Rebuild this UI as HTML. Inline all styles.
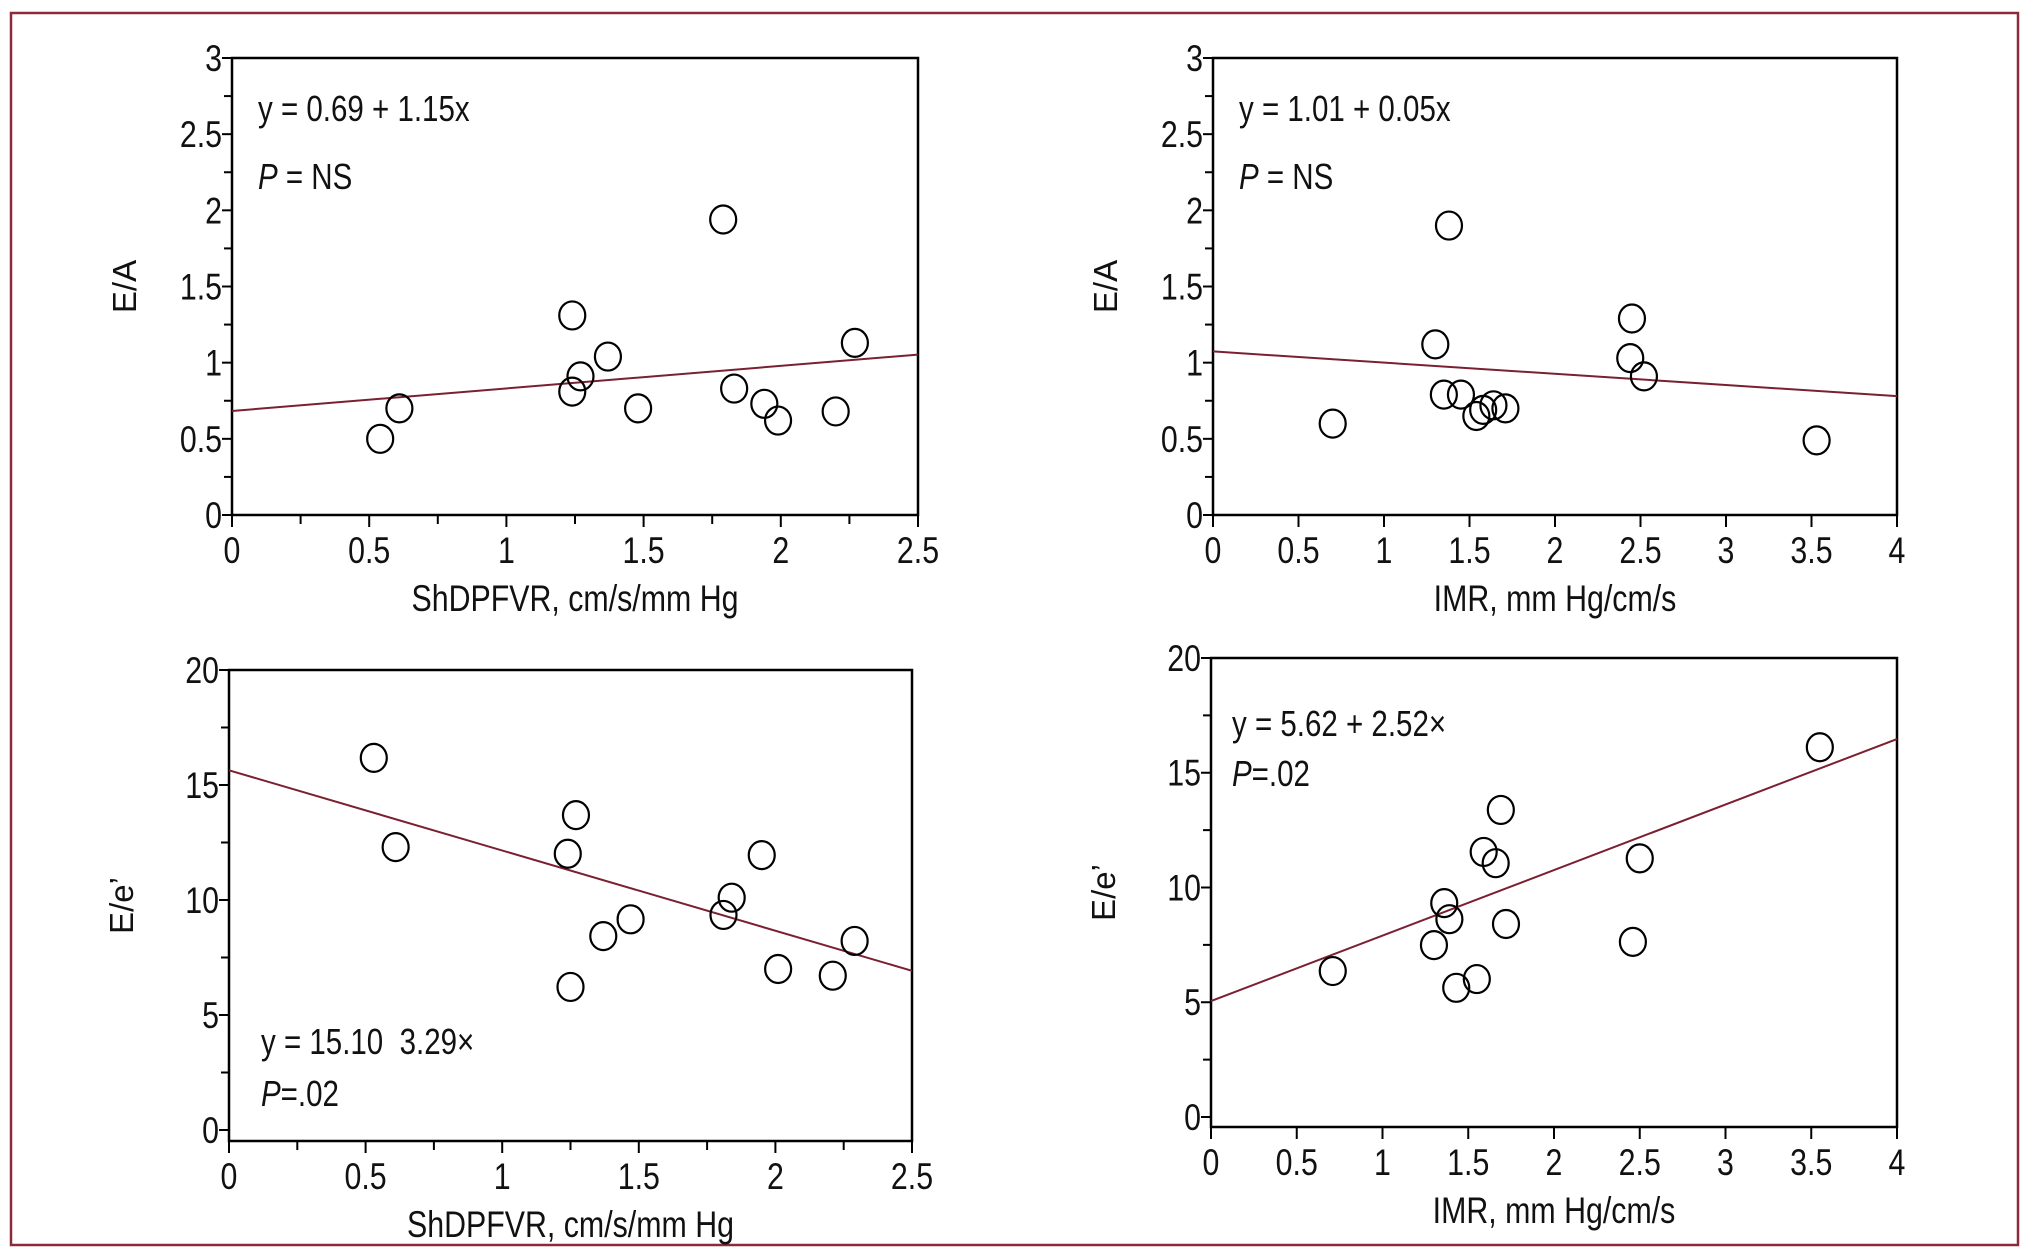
<!DOCTYPE html>
<html><head><meta charset="utf-8">
<style>
html,body{margin:0;padding:0;background:#fff;}
svg{display:block;}
text{font-family:"Liberation Sans Narrow","Liberation Sans",sans-serif;fill:#111;}
.sq{transform-box:fill-box;transform:scaleX(0.82);}
.sq.st{transform-origin:left center;}
.sq.md{transform-origin:center center;}
.sq.en{transform-origin:right center;}
</style></head>
<body>
<svg id="fig" width="2037" height="1254" viewBox="0 0 2037 1254" xmlns="http://www.w3.org/2000/svg">
<rect x="11" y="13" width="2007" height="1232" fill="none" stroke="#8b2a3a" stroke-width="2.5"/>
</svg>
<script>
// Panel A: E/A vs ShDPFVR
const aX = [0.54,0.61,1.24,1.24,1.27,1.37,1.48,1.79,1.83,1.94,1.99,2.20,2.27];
const aY = [0.50,0.70,1.31,0.81,0.91,1.04,0.70,1.94,0.83,0.73,0.62,0.68,1.13];
const aLine = [0.683,1.053];
// Panel B: E/A vs IMR
const bX = [0.70,1.30,1.38,1.35,1.45,1.54,1.58,1.64,1.71,2.45,2.44,2.52,3.53];
const bY = [0.60,1.12,1.90,0.79,0.79,0.65,0.69,0.72,0.70,1.29,1.03,0.91,0.49];
const bLine = [1.074,0.78];
// Panel C: E/e' vs ShDPFVR
const cX = [0.53,0.61,1.27,1.24,1.25,1.37,1.47,1.81,1.84,1.95,2.01,2.21,2.29];
const cY = [16.18,12.30,13.69,12.01,6.22,8.43,9.16,9.35,10.10,11.95,7.00,6.71,8.22];
const cLine = [15.64,6.92];
// Panel D: E/e' vs IMR
const dX = [0.71,1.30,1.36,1.39,1.43,1.55,1.59,1.66,1.69,1.72,2.46,2.50,3.55];
const dY = [6.36,7.49,9.32,8.62,5.63,6.01,11.55,11.06,13.38,8.41,7.63,11.27,16.11];
const dLine = [5.05,16.47];
const eaTicks = ["0","0.5","1","1.5","2","2.5","3"];
const eeTicks = ["0","5","10","15","20"];
const shTicks = ["0","0.5","1","1.5","2","2.5"];
const imrTicks = ["0","0.5","1","1.5","2","2.5","3","3.5","4"];

const NS="http://www.w3.org/2000/svg";
const svg=document.getElementById('fig');
function mk(tag,attrs,parent){const e=document.createElementNS(NS,tag);for(const k in attrs)e.setAttribute(k,attrs[k]);(parent||svg).appendChild(e);return e;}

function panel(p){
  const g=mk('g',{});
  
  
  const xmax=parseFloat(p.xt[p.xt.length-1]), ymax=parseFloat(p.yt[p.yt.length-1]);
  const sx=v=>p.x0+(v/xmax)*(p.x1-p.x0);
  const sy=v=>p.y0+(v/ymax)*(p.y1-p.y0);
  const box=mk('rect',{x:p.x0,y:p.y1,width:p.x1-p.x0,height:p.yb-p.y1,fill:'none',stroke:'#000','stroke-width':2.5},g);
  
  
  const ystep=ymax/(p.yt.length-1);
  for(let i=0;i<p.yt.length;i++){
    const v=i*ystep, y=sy(v);
    mk('line',{x1:p.x0-10,x2:p.x0,y1:y,y2:y,stroke:'#000','stroke-width':2},g);
    const t=mk('text',{x:p.x0-10,y:y+13,'text-anchor':'end','font-size':37,class:'sq en'},g);
    t.textContent=p.yt[i];
    
    
    if(i<p.yt.length-1){const ym=sy(v+ystep/2);mk('line',{x1:p.x0-8,x2:p.x0,y1:ym,y2:ym,stroke:'#000','stroke-width':2},g);}
  }
  const xstep=xmax/(p.xt.length-1);
  for(let i=0;i<p.xt.length;i++){
    const v=i*xstep, x=sx(v);
    mk('line',{x1:x,x2:x,y1:p.yb,y2:p.yb+12,stroke:'#000','stroke-width':2},g);
    const t=mk('text',{x:x,y:p.yb+48,'text-anchor':'middle','font-size':37,class:'sq md'},g);
    t.textContent=p.xt[i];
    
    
    if(p.minorX && i<p.xt.length-1){const xm=sx(v+xstep/2);mk('line',{x1:xm,x2:xm,y1:p.yb,y2:p.yb+9,stroke:'#000','stroke-width':2},g);}
  }
  const xt=mk('text',{x:(p.x0+p.x1)/2,y:p.yb+96,'text-anchor':'middle','font-size':37,class:'sq md'},g);
  xt.textContent=p.xlabel;
  
  
  const ycx=p.x0-96, ycy=(p.y1+p.yb)/2;
  const yt=mk('text',{x:ycx,y:ycy,'text-anchor':'middle','font-size':33,transform:`rotate(-90 ${ycx} ${ycy})`},g);
  yt.textContent=p.ylabel;
  
  
  const ln=mk('line',{x1:sx(0),y1:sy(p.line[0]),x2:sx(p.lineEndX),y2:sy(p.line[1]),stroke:'#7a2030','stroke-width':2},g);
  
  
  for(let i=0;i<p.xs.length;i++){
    const c=mk('ellipse',{cx:sx(p.xs[i]),cy:sy(p.ys[i]),rx:13,ry:14,fill:'none',stroke:'#000','stroke-width':2.2},g);
    
    
  }
  const eq=mk('text',{x:p.ex,y:p.ey+13,'font-size':36,class:'sq st'},g);
  eq.textContent=p.eq;
  
  
  const pv=mk('text',{x:p.ex,y:p.py+13,'font-size':36,class:'sq st'},g);
  const it=mk('tspan',{'font-style':'italic'},pv); it.textContent='P';
  const rest=mk('tspan',{},pv); rest.textContent=p.ptxt;
  
  
}

panel({name:'panel-ea-vs-shdpfvr',x0:232,x1:918,y0:515,y1:58,yb:515,xt:shTicks,yt:eaTicks,minorX:true,
  xlabel:'ShDPFVR, cm/s/mm Hg',ylabel:'E/A',xs:aX,ys:aY,line:aLine,lineEndX:2.5,
  eq:'y = 0.69 + 1.15x',ptxt:' = NS',ex:258,ey:108,py:176});
panel({name:'panel-ea-vs-imr',x0:1213,x1:1897,y0:515,y1:58,yb:515,xt:imrTicks,yt:eaTicks,minorX:false,
  xlabel:'IMR, mm Hg/cm/s',ylabel:'E/A',xs:bX,ys:bY,line:bLine,lineEndX:4,
  eq:'y = 1.01 + 0.05x',ptxt:' = NS',ex:1239,ey:108,py:176});
panel({name:'panel-ee-vs-shdpfvr',x0:229,x1:912,y0:1130,y1:670,yb:1141,xt:shTicks,yt:eeTicks,minorX:true,
  xlabel:'ShDPFVR, cm/s/mm Hg',ylabel:'E/e\u2019',xs:cX,ys:cY,line:cLine,lineEndX:2.5,
  eq:'y = 15.10\u00a0\u00a03.29\u00d7',ptxt:'=.02',ex:261,ey:1041,py:1093});
panel({name:'panel-ee-vs-imr',x0:1211,x1:1897,y0:1117,y1:658,yb:1127,xt:imrTicks,yt:eeTicks,minorX:false,
  xlabel:'IMR, mm Hg/cm/s',ylabel:'E/e\u2019',xs:dX,ys:dY,line:dLine,lineEndX:4,
  eq:'y = 5.62 + 2.52\u00d7',ptxt:'=.02',ex:1232,ey:723,py:773});
</script>
</body></html>
